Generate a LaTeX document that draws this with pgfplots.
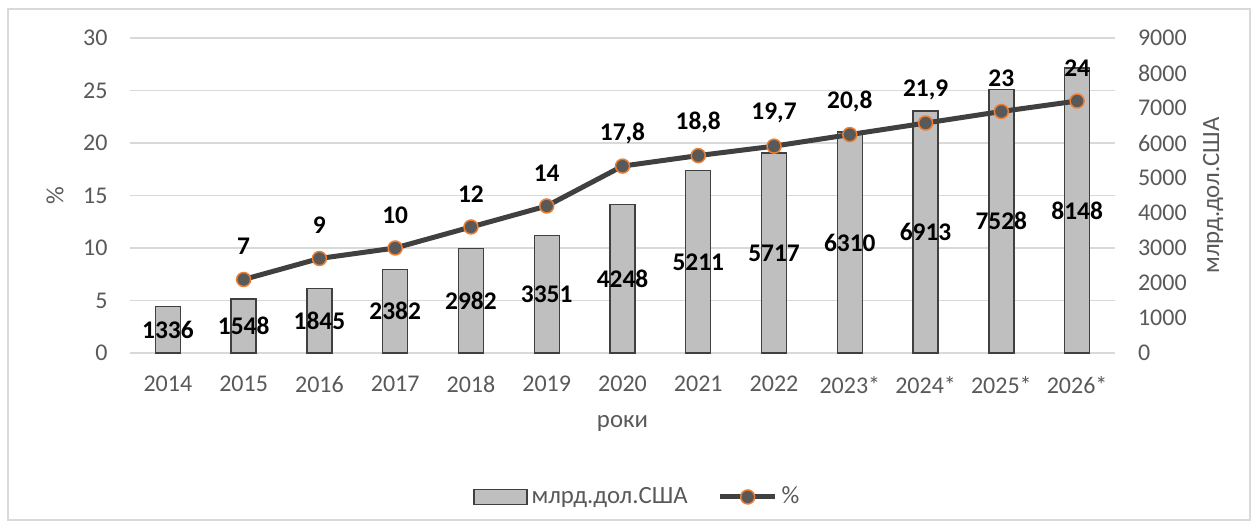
\documentclass[border=0pt]{standalone}
\usepackage{fontspec}
\setmainfont{Carlito}
\usepackage{pgfplots}
\pgfplotsset{compat=1.18}
\usepackage{pgfplotstable}

\definecolor{txt}{HTML}{595959}
\definecolor{gridc}{HTML}{D9D9D9}
\definecolor{barfill}{HTML}{BFBFBF}
\definecolor{bardraw}{HTML}{404040}
\definecolor{linec}{HTML}{404040}
\definecolor{mkfill}{HTML}{595959}
\definecolor{mkdraw}{HTML}{ED7D31}

% млрд.дол.США (right axis)
\pgfplotstableread{
x v
0 1336
1 1548
2 1845
3 2382
4 2982
5 3351
6 4248
7 5211
8 5717
9 6310
10 6913
11 7528
12 8148
}\bars

% % (left axis)
\pgfplotstableread{
x p
1 7
2 9
3 10
4 12
5 14
6 17.8
7 18.8
8 19.7
9 20.8
10 21.9
11 23
12 24
}\share

\tikzset{lbl/.style={font=\bfseries\fontsize{12.7}{15}\selectfont, text=black}}
\pgfplotsset{
  base/.style={scale only axis, width=492.5pt, height=157.5pt,
    xmin=-0.5, xmax=12.5, ymin=0, clip=false,
    axis line style={draw=none}, major tick length=0pt,
    tick label style={font=\color{txt}\fontsize{12}{14}\selectfont},
    /pgf/number format/assume math mode=true,
    /pgf/number format/1000 sep={}, scaled y ticks=false},
  barleg/.style={legend image code/.code={\draw[##1] (0pt,-3.75pt) rectangle (26.5pt,3.75pt);}},
  lineleg/.style={legend image code/.code={\draw[mark repeat=2, mark phase=2, ##1]
    plot coordinates {(0pt,0pt) (13.75pt,0pt) (27.5pt,0pt)};}},
}

\begin{document}
\begin{tikzpicture}
% bars on the right axis, grid drawn here so it stays behind them
\begin{axis}[base, axis y line*=right, ymax=9000,
  ytick={0,1000,...,9000}, yticklabel style={xshift=8pt},
  extra y ticks={0,1500,...,9000},
  extra y tick style={grid=major, yticklabel={}},
  grid style={gridc, line width=0.7pt},
  xtick={0,...,12},
  xticklabels={2014,2015,2016,2017,2018,2019,2020,2021,2022,2023*,2024*,2025*,2026*},
  xticklabel style={yshift=-8pt},
  xlabel={роки}, ylabel={млрд.дол.США},
  every axis x label/.style={at={(axis description cs:0.5,-0.2222)}, anchor=center,
    font=\color{txt}\fontsize{12.4}{14}\selectfont},
  every axis y label/.style={at={(axis description cs:1.0995,0.5)}, rotate=90, anchor=center,
    font=\color{txt}\fontsize{12.4}{14}\selectfont}]
\addplot[ybar, bar width=12.5pt, fill=barfill, draw=bardraw, line width=0.7pt]
  table[x=x, y=v] {\bars};
\addplot[draw=none, mark=none, nodes near coords, nodes near coords align={center},
  point meta=explicit, every node near coord/.append style={lbl}]
  table[x=x, y expr=\thisrow{v}/2, meta=v] {\bars};
\end{axis}

% share line on the left axis
\begin{axis}[base, axis y line*=left, ymax=30,
  ytick={0,5,...,30}, yticklabel style={xshift=-7.7pt}, xtick=\empty,
  ylabel={\%},
  every axis y label/.style={at={(axis description cs:-0.0761,0.5)}, rotate=90, anchor=center,
    font=\color{txt}\fontsize{12.4}{14}\selectfont},
  legend columns=2,
  legend style={at={(axis description cs:0.516,-0.457)}, anchor=center,
    draw=none, fill=none, font=\color{txt}\fontsize{12.4}{14}\selectfont,
    /tikz/every even column/.append style={column sep=13pt}},
  /pgf/number format/use comma]
\addlegendimage{fill=barfill, draw=bardraw, line width=0.7pt, barleg}
\addlegendentry{млрд.дол.США}
\addplot[linec, line width=2.5pt, mark=*, mark size=3.5pt,
  mark options={fill=mkfill, draw=mkdraw, line width=0.75pt},
  nodes near coords, nodes near coords align={center},
  every node near coord/.append style={lbl, yshift=16.5pt}, lineleg]
  table[x=x, y=p] {\share};
\addlegendentry{\%}
\end{axis}

\draw[gridc, line width=0.75pt] (-61pt,-83.5pt) rectangle (560pt,172pt);
\pgfresetboundingbox
\useasboundingbox (-65pt,-87.5pt) rectangle (563.5pt,176.5pt);
\end{tikzpicture}
\end{document}
